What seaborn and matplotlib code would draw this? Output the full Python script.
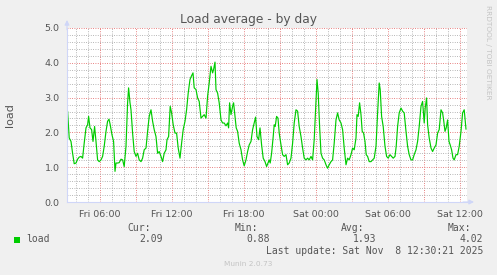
import matplotlib
matplotlib.use("Agg")
import matplotlib.pyplot as plt
import matplotlib.dates as mdates
import matplotlib.ticker as mticker
from matplotlib.patches import Rectangle
import pandas as pd
import seaborn as sns

# ---------------- data ----------------
times = [
    "Fri 03:18", "Fri 03:26", "Fri 03:35", "Fri 03:43", "Fri 03:51", "Fri 04:00", "Fri 04:08", "Fri 04:16",
    "Fri 04:25", "Fri 04:33", "Fri 04:41", "Fri 04:50", "Fri 04:58", "Fri 05:03", "Fri 05:10", "Fri 05:18",
    "Fri 05:25", "Fri 05:33", "Fri 05:40", "Fri 05:48", "Fri 05:56", "Fri 06:05", "Fri 06:13", "Fri 06:21",
    "Fri 06:30", "Fri 06:38", "Fri 06:45", "Fri 06:51", "Fri 07:00", "Fri 07:08", "Fri 07:15", "Fri 07:20",
    "Fri 07:28", "Fri 07:36", "Fri 07:45", "Fri 07:53", "Fri 08:01", "Fri 08:10", "Fri 08:18", "Fri 08:23",
    "Fri 08:30", "Fri 08:35", "Fri 08:43", "Fri 08:51", "Fri 09:00", "Fri 09:08", "Fri 09:16", "Fri 09:25",
    "Fri 09:33", "Fri 09:41", "Fri 09:50", "Fri 09:58", "Fri 10:06", "Fri 10:15", "Fri 10:23", "Fri 10:31",
    "Fri 10:40", "Fri 10:48", "Fri 10:56", "Fri 11:05", "Fri 11:13", "Fri 11:21", "Fri 11:30", "Fri 11:35",
    "Fri 11:43", "Fri 11:51", "Fri 11:58", "Fri 12:06", "Fri 12:15", "Fri 12:23", "Fri 12:31", "Fri 12:40",
    "Fri 12:48", "Fri 12:56", "Fri 13:05", "Fri 13:13", "Fri 13:21", "Fri 13:30", "Fri 13:38", "Fri 13:45",
    "Fri 13:51", "Fri 14:00", "Fri 14:08", "Fri 14:16", "Fri 14:25", "Fri 14:33", "Fri 14:41", "Fri 14:50",
    "Fri 14:58", "Fri 15:06", "Fri 15:15", "Fri 15:23", "Fri 15:28", "Fri 15:35", "Fri 15:40", "Fri 15:48",
    "Fri 15:56", "Fri 16:05", "Fri 16:13", "Fri 16:21", "Fri 16:30", "Fri 16:38", "Fri 16:43", "Fri 16:48",
    "Fri 16:55", "Fri 17:03", "Fri 17:08", "Fri 17:15", "Fri 17:21", "Fri 17:28", "Fri 17:36", "Fri 17:45",
    "Fri 17:53", "Fri 18:01", "Fri 18:10", "Fri 18:18", "Fri 18:26", "Fri 18:35", "Fri 18:43", "Fri 18:51",
    "Fri 18:58", "Fri 19:05", "Fri 19:13", "Fri 19:20", "Fri 19:28", "Fri 19:36", "Fri 19:45", "Fri 19:53",
    "Fri 20:06", "Fri 20:11", "Fri 20:18", "Fri 20:26", "Fri 20:31", "Fri 20:36", "Fri 20:43", "Fri 20:50",
    "Fri 20:56", "Fri 21:05", "Fri 21:13", "Fri 21:21", "Fri 21:30", "Fri 21:38", "Fri 21:46", "Fri 21:55",
    "Fri 22:03", "Fri 22:11", "Fri 22:20", "Fri 22:28", "Fri 22:36", "Fri 22:45", "Fri 22:53", "Fri 23:01",
    "Fri 23:10", "Fri 23:18", "Fri 23:26", "Fri 23:35", "Fri 23:43", "Fri 23:51", "Sat 00:00", "Sat 00:05",
    "Sat 00:11", "Sat 00:18", "Sat 00:25", "Sat 00:33", "Sat 00:41", "Sat 00:50", "Sat 00:58", "Sat 01:06",
    "Sat 01:15", "Sat 01:23", "Sat 01:31", "Sat 01:40", "Sat 01:48", "Sat 01:56", "Sat 02:05", "Sat 02:13",
    "Sat 02:21", "Sat 02:30", "Sat 02:38", "Sat 02:46", "Sat 02:55", "Sat 03:03", "Sat 03:11", "Sat 03:20",
    "Sat 03:25", "Sat 03:31", "Sat 03:38", "Sat 03:45", "Sat 03:51", "Sat 03:58", "Sat 04:05", "Sat 04:11",
    "Sat 04:18", "Sat 04:26", "Sat 04:35", "Sat 04:43", "Sat 04:51", "Sat 05:00", "Sat 05:08", "Sat 05:16",
    "Sat 05:21", "Sat 05:28", "Sat 05:36", "Sat 05:45", "Sat 05:53", "Sat 06:01", "Sat 06:10", "Sat 06:18",
    "Sat 06:26", "Sat 06:35", "Sat 06:41", "Sat 06:48", "Sat 06:56", "Sat 07:05", "Sat 07:13", "Sat 07:21",
    "Sat 07:30", "Sat 07:38", "Sat 07:46", "Sat 07:55", "Sat 08:03", "Sat 08:11", "Sat 08:20", "Sat 08:28",
    "Sat 08:36", "Sat 08:45", "Sat 08:53", "Sat 09:01", "Sat 09:06", "Sat 09:13", "Sat 09:18", "Sat 09:26",
    "Sat 09:35", "Sat 09:43", "Sat 09:51", "Sat 10:00", "Sat 10:08", "Sat 10:16", "Sat 10:25", "Sat 10:33",
    "Sat 10:38", "Sat 10:45", "Sat 10:51", "Sat 10:58", "Sat 11:05", "Sat 11:11", "Sat 11:18", "Sat 11:25",
    "Sat 11:31", "Sat 11:40", "Sat 11:48", "Sat 11:56", "Sat 12:05", "Sat 12:13", "Sat 12:21", "Sat 12:30",
]
load = [
    2.61, 1.84, 1.74, 1.40, 1.10, 1.12, 1.23, 1.29,
    1.31, 1.26, 1.69, 2.13, 2.22, 2.46, 2.13, 2.08,
    1.74, 2.17, 1.74, 1.21, 1.16, 1.21, 1.31, 1.60,
    2.03, 2.32, 2.38, 2.22, 1.93, 1.74, 0.88, 1.12,
    1.12, 1.13, 1.23, 1.21, 1.02, 1.60, 2.85, 3.28,
    2.85, 2.65, 1.98, 1.45, 1.31, 1.40, 1.21, 1.16,
    1.26, 1.50, 1.55, 2.03, 2.46, 2.65, 2.32, 2.08,
    1.88, 1.40, 1.45, 1.31, 1.16, 1.40, 1.50, 1.79,
    1.88, 2.75, 2.56, 2.22, 1.98, 1.98, 1.55, 1.26,
    1.69, 2.08, 2.32, 2.65, 3.13, 3.52, 3.63, 3.71,
    3.28, 3.23, 2.99, 2.89, 2.41, 2.46, 2.51, 2.41,
    3.04, 3.42, 3.90, 3.71, 3.81, 4.02, 3.23, 3.13,
    2.85, 2.36, 2.27, 2.27, 2.19, 2.27, 2.13, 2.85,
    2.51, 2.75, 2.85, 2.46, 2.13, 2.03, 1.69, 1.50,
    1.21, 1.04, 1.21, 1.45, 1.64, 1.74, 2.08, 2.27,
    2.44, 1.88, 1.79, 2.13, 1.64, 1.26, 1.16, 1.02,
    1.21, 1.12, 1.40, 1.88, 2.22, 2.17, 2.46, 2.41,
    1.98, 1.64, 1.36, 1.31, 1.36, 1.07, 1.12, 1.26,
    1.69, 2.27, 2.65, 2.61, 2.17, 1.88, 1.55, 1.26,
    1.21, 1.26, 1.21, 1.31, 1.21, 1.79, 2.89, 3.52,
    3.13, 2.17, 1.40, 1.26, 1.21, 1.07, 0.97, 1.07,
    1.16, 1.21, 1.69, 2.36, 2.56, 2.36, 2.27, 2.08,
    1.55, 1.07, 1.26, 1.21, 1.36, 1.55, 1.50, 1.84,
    2.51, 2.46, 2.85, 2.51, 2.03, 1.98, 1.74, 1.36,
    1.31, 1.16, 1.16, 1.21, 1.26, 1.60, 2.56, 3.42,
    3.23, 2.46, 2.17, 1.60, 1.31, 1.26, 1.36, 1.31,
    1.26, 1.31, 1.60, 2.17, 2.56, 2.70, 2.61, 2.56,
    2.03, 1.60, 1.36, 1.21, 1.21, 1.36, 1.50, 1.74,
    2.17, 2.75, 2.89, 2.27, 2.70, 2.99, 2.22, 1.84,
    1.55, 1.45, 1.55, 1.64, 1.98, 2.08, 2.65, 2.56,
    2.36, 2.03, 2.13, 2.36, 1.74, 1.64, 1.50, 1.26,
    1.21, 1.36, 1.36, 1.60, 2.03, 2.56, 2.65, 2.09,
]
day_dates = {"Fri": "2025-11-07", "Sat": "2025-11-08"}
x_start, x_end = "2025-11-07 03:15", "2025-11-08 12:35"
y_max = 5.0

series_name = "load"
stat_labels = ["Cur:", "Min:", "Avg:", "Max:"]
stat_values = ["2.09", "0.88", "1.93", "4.02"]
title = "Load average - by day"
last_update = "Last update: Sat Nov  8 12:30:21 2025"
footer = "Munin 2.0.73"
watermark = "RRDTOOL / TOBI OETIKER"

ts = pd.to_datetime([day_dates[t.split()[0]] + " " + t.split()[1] for t in times])
df = pd.DataFrame({"time": ts, "load": load})

# ---------------- style ----------------
sns.set_theme(style="white")
plt.rcParams["font.family"] = ["DejaVu Sans"]

W, H = 497, 275
BG = "#F0F0F0"
FONT = "#555555"
AXIS = "#CFD6F8"
GRID = (0.62, 0.62, 0.62, 0.45)
MGRID = (0.88, 0.35, 0.35, 0.42)
LINE = "#00CC00"

fig = plt.figure(figsize=(W / 100, H / 100), dpi=100, facecolor=BG)
ax = fig.add_axes([67 / W, 1 - 202 / H, 400 / W, 174 / H])
ax.set_facecolor("white")

sns.lineplot(data=df, x="time", y="load", ax=ax, color=LINE, linewidth=0.85, zorder=3)

ax.set_xlim(pd.Timestamp(x_start), pd.Timestamp(x_end))
ax.set_ylim(0, y_max)
ax.set_xlabel("")
ax.set_ylabel("load", fontsize=8, color=FONT, labelpad=21)

# x ticks
ax.xaxis.set_major_locator(mdates.HourLocator(byhour=range(0, 24, 3)))
ax.xaxis.set_minor_locator(mdates.HourLocator())


def fmt_x(v, pos):
    d = mdates.num2date(v)
    return d.strftime("%a %H:%M") if d.hour % 6 == 0 else ""


ax.xaxis.set_major_formatter(mticker.FuncFormatter(fmt_x))
# y ticks
ax.yaxis.set_major_locator(mticker.MultipleLocator(1.0))
ax.yaxis.set_minor_locator(mticker.MultipleLocator(0.2))
ax.yaxis.set_major_formatter(mticker.FormatStrFormatter("%.1f"))

ax.set_axisbelow(True)
dots = (0, (1, 1.8))
ax.grid(which="minor", color=GRID, linestyle=dots, linewidth=0.6)
ax.grid(which="major", color=MGRID, linestyle=dots, linewidth=0.6)

ax.tick_params(which="major", length=2.2, width=0.7, color=MGRID, labelsize=6.8,
               labelcolor=FONT, pad=3)
ax.tick_params(which="minor", length=1.6, width=0.6, color=GRID)
ax.tick_params(axis="x", which="major", pad=3.5)

for s in ["top", "right"]:
    ax.spines[s].set_visible(False)
for s in ["left", "bottom"]:
    ax.spines[s].set_color(AXIS)
    ax.spines[s].set_linewidth(0.8)
    ax.spines[s].set_zorder(4)

# axis arrows
arrow = dict(arrowstyle="-|>", color=AXIS, lw=0.8, mutation_scale=7, shrinkA=0, shrinkB=0)
ax.annotate("", xy=(0, 1 + 8 / 174), xytext=(0, 1 - 0.01), xycoords="axes fraction",
            arrowprops=arrow, annotation_clip=False)
ax.annotate("", xy=(1 + 7 / 400, 0), xytext=(1 - 0.01, 0), xycoords="axes fraction",
            arrowprops=arrow, annotation_clip=False)


def P(x, y):
    return x / W, 1 - y / H


fig.text(*P(248.5, 19), title, ha="center", va="center", fontsize=8.8, color=FONT)
fig.text(*P(488, 5), watermark, ha="center", va="top", rotation=270, fontsize=5.3,
         color="#C4C4C4")

mono = "DejaVu Sans Mono"
fs = 7.0
fig.patches.append(Rectangle(P(14, 242.5), 6 / W, 6 / H, transform=fig.transFigure,
                             facecolor=LINE, edgecolor="none"))
fig.text(*P(26.5, 239.5), series_name, ha="left", va="center", family=mono, fontsize=fs, color=FONT)
label_right = [151, 258, 364, 471]
value_right = [163, 270, 376, 483]
for lab, val, lx, vx in zip(stat_labels, stat_values, label_right, value_right):
    fig.text(*P(lx, 228), lab, ha="right", va="center", family=mono, fontsize=fs, color=FONT)
    fig.text(*P(vx, 239.5), val, ha="right", va="center", family=mono, fontsize=fs, color=FONT)
fig.text(*P(483, 251), last_update, ha="right", va="center", family=mono, fontsize=fs, color=FONT)
fig.text(*P(248, 264), footer, ha="center", va="center", fontsize=5.3, color="#C4C4C4")

fig.savefig("out.png", dpi=100, facecolor=BG)
